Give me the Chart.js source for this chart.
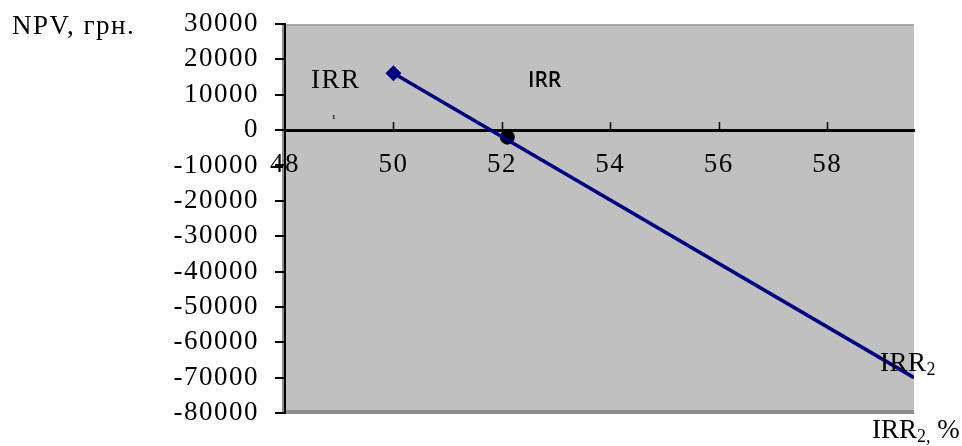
<!DOCTYPE html>
<html>
<head>
<meta charset="utf-8">
<script src="https://cdn.jsdelivr.net/npm/chart.js@4/dist/chart.umd.min.js"></script>
<style>
  body { margin: 0; background: #fff; }
  canvas { display: block; }
</style>
</head>
<body>
<canvas id="npvChart" width="962" height="446"></canvas>
<script>
// --- data ---
const rateValues = [50, 59.6];          // IRR, %
const npvValues = [16100, -70000];      // NPV, грн.
const irrPoint = [52.1, -2000];         // crossing marker
const xTicks = [48, 50, 52, 54, 56, 58];
const yTicks = [30000, 20000, 10000, 0, -10000, -20000, -30000, -40000, -50000, -60000, -70000, -80000];

const SERIF = '"Liberation Serif", "Times New Roman", serif';

// grey plot area + edges, wider letter spacing for the serif texts
const plotBg = {
    id: 'plotBg',
    beforeDraw(chart) {
        const { ctx, chartArea: a } = chart;
        ctx.letterSpacing = '1.5px';
        ctx.save();
        ctx.fillStyle = '#c0c0c0';
        ctx.fillRect(a.left, a.top, a.right - a.left, a.bottom - a.top);
        ctx.fillStyle = '#8c8c8c';
        ctx.fillRect(a.left, a.bottom - 3, a.right - a.left, 4);
        ctx.fillStyle = '#a8a8a8';
        ctx.fillRect(a.left, a.top, a.right - a.left, 2);
        ctx.fillStyle = '#8c8c8c';
        ctx.fillRect(a.left - 3, a.top, 2, a.bottom - a.top);
        ctx.restore();
    }
};

// small upward tick marks on the zero line + free texts
const extras = {
    id: 'extras',
    afterDraw(chart) {
        const { ctx } = chart;
        const x = chart.scales.x, y = chart.scales.y;
        const y0 = y.getPixelForValue(0);
        ctx.save();
        ctx.strokeStyle = '#000';
        ctx.lineWidth = 1.5;
        xTicks.slice(1).forEach(v => {
            const px = Math.round(x.getPixelForValue(v)) + 0.5;
            ctx.beginPath();
            ctx.moveTo(px, y0 - 8);
            ctx.lineTo(px, y0);
            ctx.stroke();
        });

        ctx.fillStyle = '#000';
        ctx.textBaseline = 'middle';
        ctx.textAlign = 'left';
        ctx.letterSpacing = '1.5px';
        ctx.font = '27px ' + SERIF;
        ctx.fillText('NPV, грн.', 12, 27);
        ctx.fillText('IRR', 311, 81);

        ctx.letterSpacing = '0px';
        ctx.font = 'bold 7px ' + SERIF;
        ctx.fillText('1', 332, 117);

        ctx.font = '600 21px "Open Sans", Arial, sans-serif';
        ctx.fillText('IRR', 528, 81);

        // IRR2 near the line end
        ctx.letterSpacing = '0.5px';
        ctx.font = '27px ' + SERIF;
        ctx.fillText('IRR', 880, 364);
        let w = ctx.measureText('IRR').width;
        ctx.font = '18px ' + SERIF;
        ctx.fillText('2', 880 + w, 370);

        // axis title
        ctx.letterSpacing = '0px';
        ctx.font = '27px ' + SERIF;
        ctx.fillText('IRR', 872, 431);
        w = ctx.measureText('IRR').width;
        ctx.font = '18px ' + SERIF;
        ctx.fillText('2,', 872 + w, 437);
        const w2 = ctx.measureText('2,').width;
        ctx.font = '27px ' + SERIF;
        ctx.fillText(' %', 872 + w + w2, 431);
        ctx.restore();
    }
};

new Chart(document.getElementById('npvChart'), {
    type: 'scatter',
    data: {
        datasets: [
            {
                data: rateValues.map((r, i) => ({ x: r, y: npvValues[i] })),
                showLine: true,
                borderColor: '#000080',
                backgroundColor: '#000080',
                borderWidth: 3.5,
                pointStyle: 'rectRot',
                pointRadius: [8, 0],
                pointBorderWidth: 0
            },
            {
                data: [{ x: irrPoint[0], y: irrPoint[1] }],
                backgroundColor: '#000',
                borderColor: '#000',
                pointRadius: 7
            }
        ]
    },
    options: {
        responsive: false,
        animation: false,
        layout: { padding: { top: 24, right: 48, bottom: 33, left: 0 } },
        plugins: { legend: { display: false }, tooltip: { enabled: false } },
        scales: {
            x: {
                type: 'linear',
                position: { y: 0 },
                min: 48,
                max: 59.6,
                afterBuildTicks: s => { s.ticks = xTicks.map(v => ({ value: v })); },
                afterFit: s => { s.paddingLeft = 0; s.paddingRight = 0; s.paddingTop = 0; s.paddingBottom = 0; },
                grid: { drawOnChartArea: false, drawTicks: false },
                border: { display: true, color: '#000', width: 3 },
                ticks: {
                    autoSkip: false,
                    maxRotation: 0,
                    padding: 19,
                    color: '#000',
                    font: { family: SERIF, size: 27 },
                    callback: v => String(v)
                }
            },
            y: {
                type: 'linear',
                position: 'left',
                min: -80000,
                max: 30000,
                afterBuildTicks: s => { s.ticks = yTicks.map(v => ({ value: v })); },
                afterFit: s => { s.width = 285; s.paddingTop = 0; s.paddingBottom = 0; },
                grid: { drawOnChartArea: false, color: '#000', tickLength: 10, lineWidth: 2 },
                border: { display: true, color: '#000', width: 2 },
                ticks: {
                    autoSkip: false,
                    padding: 16,
                    color: '#000',
                    font: { family: SERIF, size: 27, lineHeight: 1 },
                    callback: v => String(v)
                }
            }
        }
    },
    plugins: [plotBg, extras]
});
</script>
</body>
</html>
